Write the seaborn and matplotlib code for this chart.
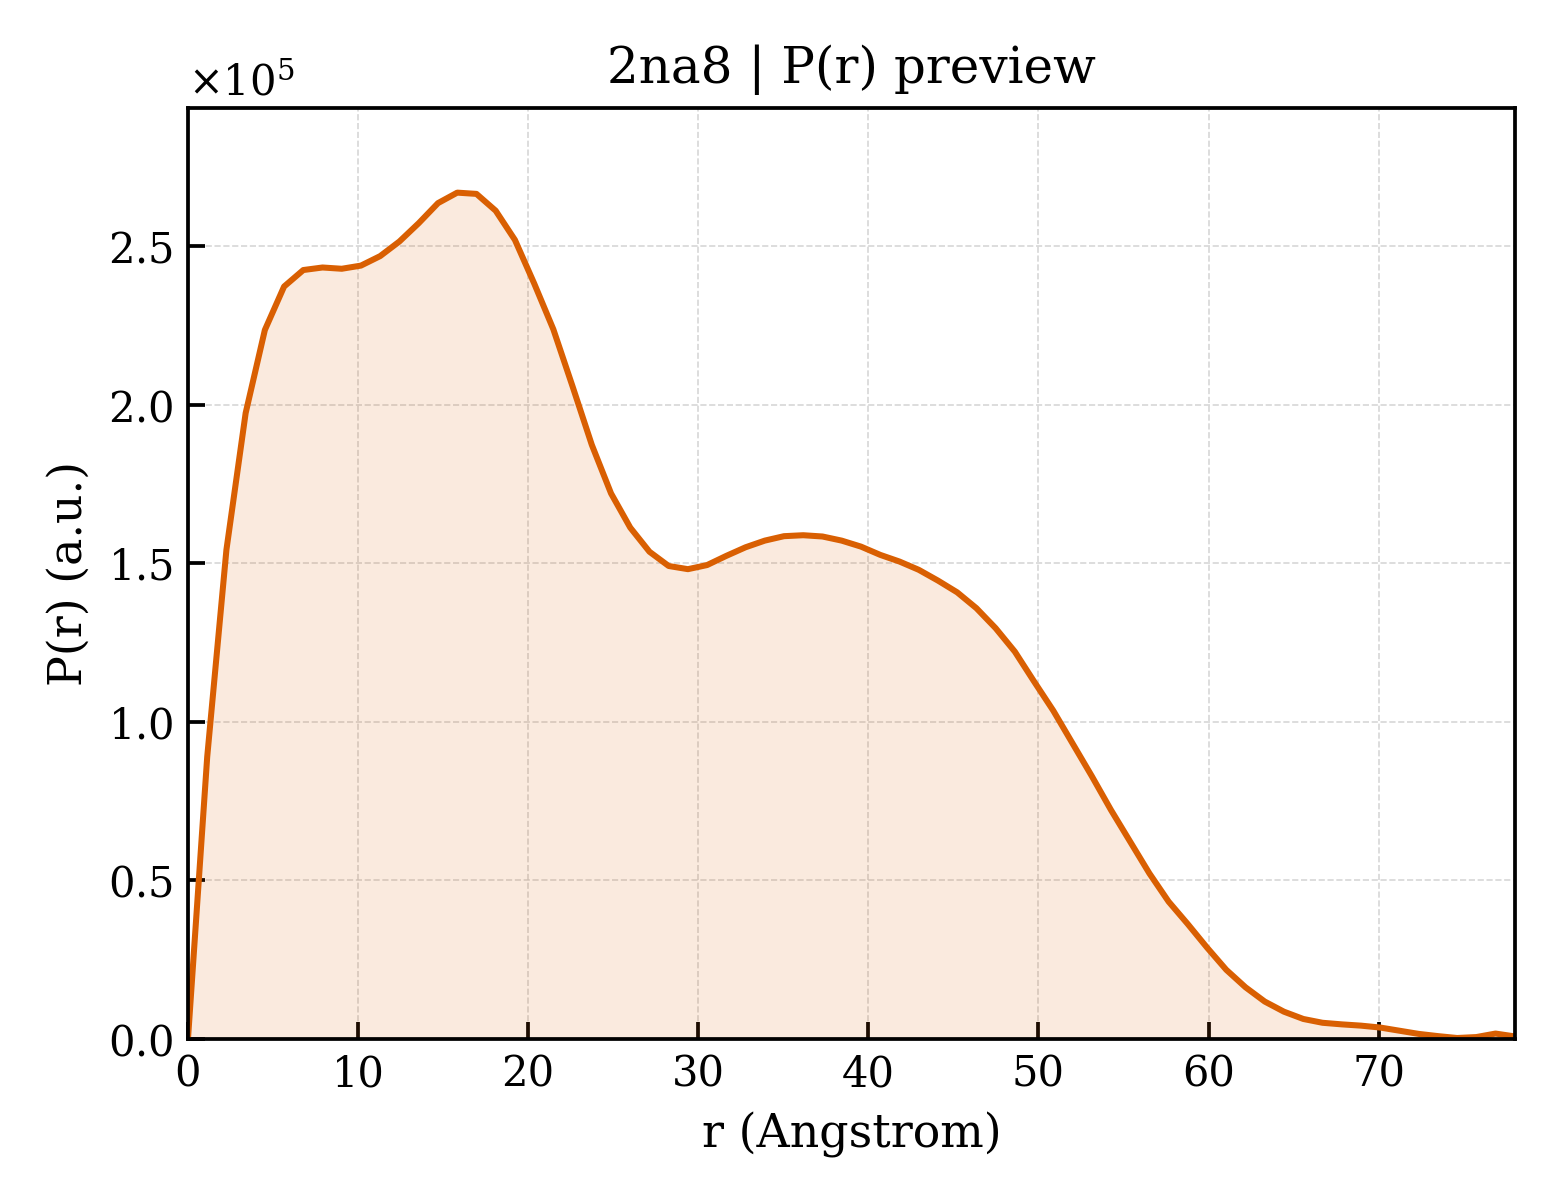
import matplotlib
matplotlib.use("Agg")
import matplotlib.pyplot as plt
from matplotlib.ticker import ScalarFormatter
import pandas as pd
import seaborn as sns

# P(r) curve (r in Angstrom, P in units of 1e5)
r_values = [0.00, 1.13, 2.26, 3.39, 4.52, 5.65, 6.78, 7.91, 9.04, 10.17,
            11.30, 12.43, 13.57, 14.70, 15.83, 16.96, 18.09, 19.22, 20.35, 21.48,
            22.61, 23.74, 24.87, 26.00, 27.13, 28.26, 29.39, 30.52, 31.65, 32.78,
            33.91, 35.04, 36.17, 37.30, 38.43, 39.57, 40.70, 41.83, 42.96, 44.09,
            45.22, 46.35, 47.48, 48.61, 49.74, 50.87, 52.00, 53.13, 54.26, 55.39,
            56.52, 57.65, 58.78, 59.91, 61.04, 62.17, 63.30, 64.43, 65.57, 66.70,
            67.83, 68.96, 70.09, 71.22, 72.35, 73.48, 74.61, 75.74, 76.87, 78.00]
p_scaled = [0.000, 0.889, 1.542, 1.973, 2.235, 2.372, 2.424, 2.432, 2.428, 2.438,
            2.468, 2.514, 2.572, 2.635, 2.668, 2.664, 2.611, 2.519, 2.382, 2.237,
            2.057, 1.873, 1.720, 1.612, 1.536, 1.491, 1.481, 1.494, 1.523, 1.550,
            1.571, 1.585, 1.588, 1.584, 1.571, 1.552, 1.526, 1.505, 1.479, 1.445,
            1.408, 1.358, 1.295, 1.221, 1.127, 1.035, 0.932, 0.829, 0.722, 0.622,
            0.522, 0.433, 0.362, 0.288, 0.218, 0.163, 0.118, 0.086, 0.063, 0.051,
            0.046, 0.042, 0.036, 0.026, 0.016, 0.009, 0.003, 0.006, 0.017, 0.008]
p_values = [v * 1e5 for v in p_scaled]

line_color = "#d95f02"

sns.set_theme(style="ticks")
plt.rcParams["font.family"] = ["DejaVu Serif"]
plt.rcParams["mathtext.fontset"] = "dejavuserif"
plt.rcParams["axes.linewidth"] = 0.9
plt.rcParams["xtick.direction"] = "in"
plt.rcParams["ytick.direction"] = "in"
#seaborn greys the text by default, reference uses plain black
for key in ["text.color", "axes.labelcolor", "xtick.color", "ytick.color",
            "xtick.labelcolor", "ytick.labelcolor", "axes.edgecolor"]:
    plt.rcParams[key] = "black"

df = pd.DataFrame({"r": r_values, "P": p_values})

fig, ax = plt.subplots(figsize=(5.2, 4.0), dpi=300)
fig.subplots_adjust(left=0.1205, right=0.971, top=0.91, bottom=0.1342)

#Curve and shaded area under it
sns.lineplot(data=df, x="r", y="P", ax=ax, color=line_color, linewidth=1.45)
ax.fill_between(df["r"], df["P"], 0, color=line_color, alpha=0.13, linewidth=0)

ax.set_xlim(min(r_values), max(r_values))
ax.set_ylim(0, max(p_values) * 1.1)

fmt = ScalarFormatter(useMathText=True)
fmt.set_powerlimits((0, 0))
ax.yaxis.set_major_formatter(fmt)
ax.yaxis.get_offset_text().set_fontsize(10)

ax.grid(True, linestyle="--", linewidth=0.4, color="#cccccc", alpha=0.8)
ax.tick_params(axis="both", which="major", labelsize=10, length=4, width=0.9,
               direction="in", color="black", labelcolor="black")
for s in ax.spines.values():
    s.set_visible(True)
    s.set_color("black")

ax.set_xlabel("r (Angstrom)", fontsize=11)
ax.set_ylabel("P(r) (a.u.)", fontsize=11)
ax.set_title("2na8 | P(r) preview", fontsize=12)

plt.savefig("out.png", dpi=300)
plt.close()
